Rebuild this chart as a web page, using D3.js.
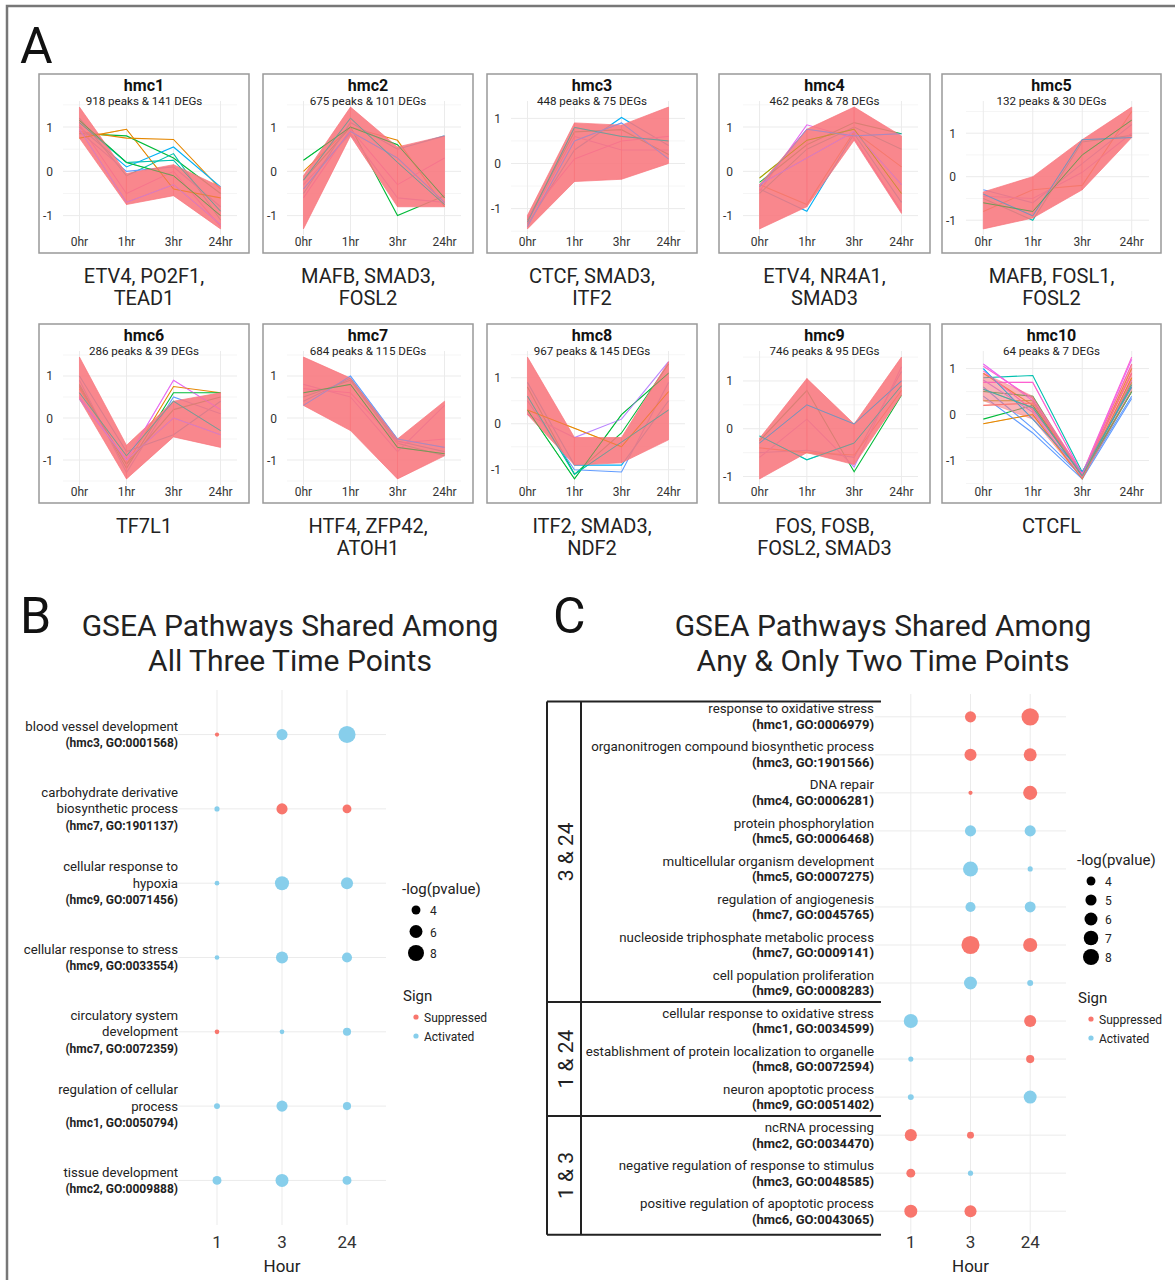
<!DOCTYPE html>
<html>
<head>
<meta charset="utf-8">
<script src="https://cdn.jsdelivr.net/npm/d3@7"></script>
<style>
  body { margin: 0; background: #fff; }
  svg { font-family: Roboto, "Noto Sans", sans-serif; }
</style>
</head>
<body>
<svg id="fig" width="1175" height="1280"></svg>
<script>
// ---------- panel A data ----------
const hours = ["0hr", "1hr", "3hr", "24hr"];
const clusterNames = ["hmc1", "hmc2", "hmc3", "hmc4", "hmc5", "hmc6", "hmc7", "hmc8", "hmc9", "hmc10"];
const clusterSubtitles = ["918 peaks & 141 DEGs", "675 peaks & 101 DEGs", "448 peaks & 75 DEGs", "462 peaks & 78 DEGs",
  "132 peaks & 30 DEGs", "286 peaks & 39 DEGs", "684 peaks & 115 DEGs", "967 peaks & 145 DEGs",
  "746 peaks & 95 DEGs", "64 peaks & 7 DEGs"];
const clusterTFs = [["ETV4, PO2F1,", "TEAD1"], ["MAFB, SMAD3,", "FOSL2"], ["CTCF, SMAD3,", "ITF2"],
  ["ETV4, NR4A1,", "SMAD3"], ["MAFB, FOSL1,", "FOSL2"], ["TF7L1"], ["HTF4, ZFP42,", "ATOH1"],
  ["ITF2, SMAD3,", "NDF2"], ["FOS, FOSB,", "FOSL2, SMAD3"], ["CTCFL"]];

// dense (pink) bundle of profiles: lowest and highest value at 0, 1, 3, 24 hr
const bandLow = [
  [0.75, -0.75, -0.55, -1.3], [-1.3, 0.8, -0.8, -0.8], [-1.45, -0.4, -0.35, 0.0], [-1.3, -0.8, 0.7, -0.95],
  [-1.2, -0.95, -0.3, 0.9], [0.45, -1.45, -0.45, -0.7], [0.3, -0.3, -1.45, -0.9], [0.2, -0.9, -0.85, -0.35],
  [-1.05, -0.5, -0.75, 0.7], [0.3, -0.1, -1.4, 0.5]];
const bandHigh = [
  [1.45, -0.05, 0.15, -0.35], [-0.1, 1.45, 0.55, 0.8], [-1.15, 0.9, 0.85, 1.25], [-0.3, 0.95, 1.45, 0.8],
  [-0.35, 0.0, 0.85, 1.6], [1.45, -0.65, 0.4, 0.6], [1.45, 0.95, -0.5, 0.4], [1.45, -0.3, -0.3, 1.35],
  [-0.2, 1.05, 0.1, 1.5], [0.9, 0.4, -1.28, 1.1]];

// individual coloured profiles that stand out from the bundle: [0hr, 1hr, 3hr, 24hr, colour index]
const lineColors = ["#F8766D", "#E58700", "#A3A500", "#00BA38", "#00C0AF", "#00B0F6", "#619CFF", "#B983FF", "#E76BF3", "#FD61D1"];
const extraLines = [
  [[0.75, 0.95, -0.4, -0.6, 1], [0.85, 0.8, 0.3, -0.5, 3], [0.9, 0.75, 0.72, -0.4, 1], [1.1, 0.2, 0.25, -0.9, 4],
   [1.0, 0.1, 0.55, -0.35, 5], [1.2, -0.1, 0.4, -1.1, 4], [0.95, -0.7, -0.3, -1.2, 7], [1.05, -0.5, 0.0, -1.25, 8],
   [0.9, 0.0, 0.1, -0.8, 6], [1.15, 0.2, -0.1, -1.0, 3]],
  [[0.25, 1.0, 0.6, -0.6, 3], [0.0, 1.0, 0.7, -0.8, 1], [-0.2, 1.0, -1.0, -0.55, 3], [-0.4, 0.9, 0.3, -0.7, 6],
   [-0.3, 0.85, -0.6, -0.7, 7], [-0.5, 1.1, 0.5, 0.8, 5], [-0.2, 1.2, 0.2, -0.75, 4], [-0.6, 0.95, -0.3, 0.3, 8]],
  [[-1.3, 0.8, 0.6, 0.5, 4], [-1.35, 0.3, 1.02, 0.4, 5], [-1.25, 0.7, 0.75, 0.2, 3], [-1.4, 0.5, 0.9, 0.1, 6],
   [-1.3, 0.6, 0.3, 0.3, 7], [-1.2, 0.1, 0.5, 0.6, 8]],
  [[-0.15, 0.7, 0.95, -0.5, 2], [-0.4, -0.9, 0.85, -0.7, 5], [-0.3, -0.75, 0.9, 0.1, 1], [-0.35, 0.95, 0.8, 0.85, 6],
   [-0.45, 1.05, 0.75, -0.9, 8], [-0.5, 0.5, 1.0, 0.5, 4], [-0.3, 0.3, 0.9, -0.3, 7], [-0.25, 0.6, 1.1, 0.85, 3]],
  [[-0.4, -0.9, 0.85, 0.9, 5], [-0.5, -1.0, 0.8, 0.95, 4], [-0.3, -0.6, 0.3, 1.2, 6], [-0.6, -0.8, 0.5, 1.3, 3],
   [-0.8, -0.3, -0.2, 1.5, 1], [-0.45, -0.5, 0.1, 1.0, 7]],
  [[0.5, -1.0, 0.9, 0.2, 8], [0.7, -1.1, 0.75, 0.6, 1], [0.8, -1.2, 0.6, 0.6, 3], [0.6, -0.9, 0.4, -0.3, 4],
   [1.0, -0.8, -0.4, 0.4, 5], [0.9, -1.3, 0.5, 0.1, 6], [0.45, -1.0, 0.0, -0.4, 7], [0.75, -1.1, 0.2, 0.5, 3]],
  [[0.3, 1.0, -0.5, -0.7, 6], [0.4, 0.95, -0.55, -0.8, 5], [0.5, 0.9, -0.6, -0.9, 4], [0.6, 0.8, -0.7, -0.85, 3],
   [0.7, 0.6, -0.6, -0.5, 8], [0.8, 0.5, -0.8, 0.3, 7]],
  [[0.3, -1.2, 0.2, 1.1, 3], [0.8, -1.1, -0.2, 1.3, 3], [0.5, -1.0, -1.05, 0.9, 6], [0.3, -0.1, -0.5, 0.7, 1],
   [0.9, -0.9, -0.9, 0.5, 5], [0.2, -0.3, 0.1, 1.35, 7], [0.6, -1.1, -0.4, 0.3, 4]],
  [[-0.15, -0.65, -0.3, 0.9, 4], [-0.25, 0.8, -0.9, 0.7, 3], [-0.5, -0.45, -0.6, 1.2, 6], [-0.3, 0.5, 0.1, 1.0, 5],
   [-0.4, -0.5, -0.55, 0.8, 1], [-0.6, 0.2, -0.8, 1.3, 7]],
  [[1.1, 0.3, -1.3, 1.2, 8], [0.9, 0.2, -1.35, 1.0, 1], [0.8, 0.85, -1.25, 0.6, 4], [0.7, 0.7, -1.3, 0.9, 9],
   [0.5, 0.4, -1.35, 0.5, 3], [0.3, 0.3, -1.3, 0.7, 2], [-0.2, 0.0, -1.4, 0.8, 1], [-0.1, 0.2, -1.3, 0.5, 3],
   [0.6, -0.3, -1.35, 0.4, 6], [1.0, -0.1, -1.25, 0.6, 5], [0.4, -0.4, -1.4, 0.35, 6], [0.95, 0.1, -1.3, 1.1, 9],
   [0.2, 0.25, -1.32, 0.9, 0], [0.75, 0.05, -1.38, 0.75, 7], [1.05, 0.35, -1.28, 1.25, 9], [0.55, 0.15, -1.33, 0.65, 4]]];

// ---------- panel B data ----------
const bHours = ["1", "3", "24"];
const bTerms = [["blood vessel development"], ["carbohydrate derivative", "biosynthetic process"],
  ["cellular response to", "hypoxia"], ["cellular response to stress"], ["circulatory system", "development"],
  ["regulation of cellular", "process"], ["tissue development"]];
const bIds = ["(hmc3, GO:0001568)", "(hmc7, GO:1901137)", "(hmc9, GO:0071456)", "(hmc9, GO:0033554)",
  "(hmc7, GO:0072359)", "(hmc1, GO:0050794)", "(hmc2, GO:0009888)"];
const bValues = [[2.6, 5.0, 8.8], [2.8, 5.0, 4.0], [2.7, 6.7, 5.5], [2.7, 5.5, 4.5], [2.7, 2.7, 3.7], [3.0, 5.0, 3.7], [4.0, 6.0, 4.0]];
const bSigns = [["S", "A", "A"], ["A", "S", "S"], ["A", "A", "A"], ["A", "A", "A"], ["S", "A", "A"], ["A", "A", "A"], ["A", "A", "A"]];

// ---------- panel C data ----------
const cTerms = ["response to oxidative stress", "organonitrogen compound biosynthetic process", "DNA repair",
  "protein phosphorylation", "multicellular organism development", "regulation of angiogenesis",
  "nucleoside triphosphate metabolic process", "cell population proliferation",
  "cellular response to oxidative stress", "establishment of protein localization to organelle",
  "neuron apoptotic process", "ncRNA processing", "negative regulation of response to stimulus",
  "positive regulation of apoptotic process"];
const cIds = ["(hmc1, GO:0006979)", "(hmc3, GO:1901566)", "(hmc4, GO:0006281)", "(hmc5, GO:0006468)",
  "(hmc5, GO:0007275)", "(hmc7, GO:0045765)", "(hmc7, GO:0009141)", "(hmc9, GO:0008283)",
  "(hmc1, GO:0034599)", "(hmc8, GO:0072594)", "(hmc9, GO:0051402)", "(hmc2, GO:0034470)",
  "(hmc3, GO:0048585)", "(hmc6, GO:0043065)"];
const cValues = [[null, 5.0, 9.0], [null, 5.5, 6.0], [null, 2.6, 6.7], [null, 5.0, 5.0], [null, 7.3, 2.8],
  [null, 4.5, 4.9], [null, 9.6, 6.7], [null, 6.0, 3.0], [6.7, null, 5.5], [2.8, null, 3.7], [3.0, null, 6.0],
  [5.5, 3.3, null], [4.0, 2.8, null], [6.0, 5.5, null]];
const cSigns = [[null, "S", "S"], [null, "S", "S"], [null, "S", "S"], [null, "A", "A"], [null, "A", "A"],
  [null, "A", "A"], [null, "S", "S"], [null, "A", "A"], ["A", null, "S"], ["A", null, "S"], ["A", null, "A"],
  ["S", "S", null], ["S", "A", null], ["S", "S", null]];
const cGroups = ["3 & 24", "1 & 24", "1 & 3"];
const cGroupSizes = [8, 3, 3];

const bSizeBreaks = [4, 6, 8];
const cSizeBreaks = [4, 5, 6, 7, 8];
const signNames = { S: "Suppressed", A: "Activated" };
const signColors = { S: "#F8766D", A: "#87CEEB" };

// ---------- drawing ----------
const svg = d3.select("#fig");
const gridColor = "#ebebeb";

svg.append("rect").attr("x", 7).attr("y", 6).attr("width", 1180).attr("height", 1290)
  .attr("fill", "none").attr("stroke", "#777").attr("stroke-width", 2.5);

function panelLetter(t, x, y) {
  svg.append("text").attr("x", x).attr("y", y).text(t)
    .style("font-size", "50px").attr("fill", "#111");
}
panelLetter("A", 20, 63);
panelLetter("B", 20, 633);
panelLetter("C", 553, 633);

// panel A small multiples
const boxLefts = [39, 263, 487, 719, 942];
const boxWidths = [210, 210, 210, 211, 219];
const rowTops = [74, 324];
const boxH = 179;

clusterNames.forEach((name, i) => {
  const col = i % 5, row = Math.floor(i / 5);
  const w = boxWidths[col];
  const g = svg.append("g").attr("transform", `translate(${boxLefts[col]},${rowTops[row]})`);

  const vals = bandLow[i].concat(bandHigh[i], extraLines[i].flatMap(l => l.slice(0, 4)));
  const ext = d3.extent(vals);
  const pad = (ext[1] - ext[0]) * 0.05;
  const x = d3.scalePoint().domain(hours).range([24, w - 12]).padding(0.35);
  const y = d3.scaleLinear().domain([ext[0] - pad, ext[1] + pad]).range([161, 27]);
  const [y0, y1] = y.domain();

  // grid
  const minor = d3.range(-1.5, 2, 1).filter(v => v > y0 && v < y1);
  const major = [-1, 0, 1].filter(v => v > y0 && v < y1);
  g.selectAll(".gmin").data(minor).join("line")
    .attr("x1", 24).attr("x2", w - 12).attr("y1", d => y(d)).attr("y2", d => y(d))
    .attr("stroke", "#f2f2f2").attr("stroke-width", 0.8);
  g.selectAll(".gmaj").data(major).join("line")
    .attr("x1", 24).attr("x2", w - 12).attr("y1", d => y(d)).attr("y2", d => y(d))
    .attr("stroke", gridColor).attr("stroke-width", 1);
  g.selectAll(".gx").data(hours).join("line")
    .attr("x1", d => x(d)).attr("x2", d => x(d)).attr("y1", 27).attr("y2", 161)
    .attr("stroke", gridColor).attr("stroke-width", 1);

  // individual profiles, mostly hidden under the bundle
  const line = d3.line().x((d, k) => x(hours[k])).y(d => y(d));
  g.selectAll(".prof").data(extraLines[i]).join("path")
    .attr("d", d => line(d.slice(0, 4)))
    .attr("fill", "none").attr("stroke", d => lineColors[d[4]])
    .attr("stroke-width", 1.1);

  // dense bundle
  const pink = "#F8767D";
  const segs = d3.range(3).map(k => [
    [x(hours[k]), y(bandLow[i][k])], [x(hours[k]), y(bandHigh[i][k])],
    [x(hours[k + 1]), y(bandHigh[i][k + 1])], [x(hours[k + 1]), y(bandLow[i][k + 1])]]);
  const bandOpacity = name === "hmc10" ? 0.55 : 0.88;
  g.selectAll(".band").data(segs).join("path")
    .attr("d", d => "M" + d.join("L") + "Z")
    .attr("fill", pink).attr("fill-opacity", bandOpacity)
    .attr("stroke", pink).attr("stroke-opacity", bandOpacity).attr("stroke-width", 0.8);

  // a few profiles stay visible on top of the bundle
  g.selectAll(".proftop").data(extraLines[i].filter((d, k) => k % 3 === 0)).join("path")
    .attr("d", d => line(d.slice(0, 4)))
    .attr("fill", "none").attr("stroke", d => lineColors[d[4]])
    .attr("stroke-width", 0.8).attr("stroke-opacity", 0.6);

  // axes labels
  g.selectAll(".ylab").data(major).join("text")
    .attr("x", 14).attr("y", d => y(d) + 4.5).attr("text-anchor", "end")
    .style("font-size", "12px").attr("fill", "#333").text(d => d);
  g.selectAll(".xlab").data(hours).join("text")
    .attr("x", d => x(d)).attr("y", 171.5).attr("text-anchor", "middle")
    .style("font-size", "12px").attr("fill", "#333").text(d => d);

  // titles
  g.append("text").attr("x", w / 2).attr("y", 16.5).attr("text-anchor", "middle")
    .style("font-size", "16px").style("font-weight", "bold").attr("fill", "#111").text(name);
  g.append("text").attr("x", w / 2).attr("y", 31).attr("text-anchor", "middle")
    .style("font-size", "11.6px").attr("fill", "#222").text(clusterSubtitles[i]);

  // frame
  g.append("rect").attr("width", w).attr("height", boxH)
    .attr("fill", "none").attr("stroke", "#999").attr("stroke-width", 1.5);

  // transcription factors below
  g.selectAll(".tf").data(clusterTFs[i]).join("text")
    .attr("x", w / 2).attr("y", (d, k) => boxH + 29.5 + k * 22.5).attr("text-anchor", "middle")
    .style("font-size", "20px").attr("fill", "#222").text(d => d);
});

// shared helpers for B and C
function plotTitle(lines, cx) {
  svg.selectAll(null).data(lines).join("text")
    .attr("x", cx).attr("y", (d, k) => 636 + k * 35).attr("text-anchor", "middle")
    .style("font-size", "30px").attr("fill", "#222").text(d => d);
}

function rFor(v) {
  const area = d3.scaleLinear().domain([2.2, 8]).range([0, 64]);
  return Math.sqrt(Math.max(0, area(v)));
}

function dotPlot(cfg) {
  const x = d3.scalePoint().domain(bHours).range(cfg.xRange).padding(0.6);
  const y = d3.scalePoint().domain(d3.range(cfg.ids.length)).range(cfg.yRange).padding(cfg.yPad);
  const g = svg.append("g");

  g.selectAll(".gx").data(bHours).join("line")
    .attr("x1", d => x(d)).attr("x2", d => x(d)).attr("y1", cfg.yRange[0]).attr("y2", cfg.yRange[1])
    .attr("stroke", gridColor);
  g.selectAll(".gy").data(cfg.ids).join("line")
    .attr("x1", cfg.xRange[0]).attr("x2", cfg.xRange[1]).attr("y1", (d, i) => y(i)).attr("y2", (d, i) => y(i))
    .attr("stroke", gridColor);

  const pts = [];
  cfg.values.forEach((row, i) => row.forEach((v, k) => {
    if (v != null) pts.push({ i, h: bHours[k], v, s: cfg.signs[i][k] });
  }));
  g.selectAll(".dot").data(pts).join("circle")
    .attr("cx", d => x(d.h)).attr("cy", d => y(d.i)).attr("r", d => rFor(d.v))
    .attr("fill", d => signColors[d.s]);

  // term labels
  cfg.ids.forEach((id, i) => {
    const lines = cfg.terms[i].concat([id]);
    const top = y(i) - (lines.length - 1) * cfg.lh / 2 + 4.5;
    g.append("text").attr("text-anchor", "end").attr("fill", "#222")
      .selectAll("tspan").data(lines).join("tspan")
      .attr("x", cfg.labelX).attr("y", (d, k) => top + k * cfg.lh)
      .style("font-weight", (d, k) => k === lines.length - 1 ? "bold" : "normal")
      .style("font-size", (d, k) => (k === lines.length - 1 ? cfg.fsBold : cfg.fs) + "px")
      .text(d => d);
  });

  g.selectAll(".xt").data(bHours).join("text")
    .attr("x", d => x(d)).attr("y", 1248).attr("text-anchor", "middle")
    .style("font-size", "17px").attr("fill", "#333").text(d => d);
  g.append("text").attr("x", x("3")).attr("y", 1272).attr("text-anchor", "middle")
    .style("font-size", "17px").attr("fill", "#222").text("Hour");

  // legends
  const L = cfg.legend;
  g.append("text").attr("x", L.x).attr("y", L.y).style("font-size", "15px").attr("fill", "#222").text("-log(pvalue)");
  g.selectAll(".sz").data(cfg.breaks).join("circle")
    .attr("cx", L.x + 14).attr("cy", (d, k) => L.y + 16 + k * L.step).attr("r", d => rFor(d)).attr("fill", "#000");
  g.selectAll(".szl").data(cfg.breaks).join("text")
    .attr("x", L.x + 28).attr("y", (d, k) => L.y + 21 + k * L.step)
    .style("font-size", "12px").attr("fill", "#222").text(d => d);
  g.append("text").attr("x", L.x + 1).attr("y", L.sy).style("font-size", "15px").attr("fill", "#222").text("Sign");
  g.selectAll(".sg").data(["S", "A"]).join("circle")
    .attr("cx", L.x + 14).attr("cy", (d, k) => L.sy + 16 + k * 19).attr("r", 2.6).attr("fill", d => signColors[d]);
  g.selectAll(".sgl").data(["S", "A"]).join("text")
    .attr("x", L.x + 22).attr("y", (d, k) => L.sy + 20.5 + k * 19)
    .style("font-size", "12px").attr("fill", "#222").text(d => signNames[d]);
  return y;
}

// panel B
plotTitle(["GSEA Pathways Shared Among", "All Three Time Points"], 290);
dotPlot({
  terms: bTerms, ids: bIds, values: bValues, signs: bSigns,
  xRange: [178, 386], yRange: [690, 1225], yPad: 0.6,
  labelX: 178, fs: 13.2, fsBold: 12, lh: 16.5, breaks: bSizeBreaks,
  legend: { x: 402, y: 894, step: 21.5, sy: 1001 }
});

// panel C
plotTitle(["GSEA Pathways Shared Among", "Any & Only Two Time Points"], 883);
const yC = dotPlot({
  terms: cTerms.map(t => [t]), ids: cIds, values: cValues, signs: cSigns,
  xRange: [875, 1066], yRange: [694, 1234], yPad: 0.6,
  labelX: 874, fs: 13.3, fsBold: 13, lh: 15.8, breaks: cSizeBreaks,
  legend: { x: 1077, y: 865, step: 19, sy: 1003 }
});

// grouping table for C
const stepC = yC.step();
const bounds = [yC(0) - stepC * 0.4];
let acc = 0;
cGroupSizes.forEach((n, k) => {
  acc += n;
  bounds.push(k === cGroupSizes.length - 1 ? yC(acc - 1) + stepC * 0.62 : (yC(acc - 1) + yC(acc)) / 2);
});
const tbl = svg.append("g").attr("stroke", "#222").attr("stroke-width", 2);
tbl.selectAll(".hl").data(bounds).join("line")
  .attr("x1", 547).attr("x2", 881).attr("y1", d => d).attr("y2", d => d);
[547, 581].forEach(xv => tbl.append("line").attr("x1", xv).attr("x2", xv)
  .attr("y1", bounds[0]).attr("y2", bounds[bounds.length - 1]));
svg.selectAll(".grp").data(cGroups).join("text")
  .attr("transform", (d, k) => `translate(573,${(bounds[k] + bounds[k + 1]) / 2}) rotate(-90)`)
  .attr("text-anchor", "middle").style("font-size", "21px").attr("fill", "#222").text(d => d);
</script>
</body>
</html>
